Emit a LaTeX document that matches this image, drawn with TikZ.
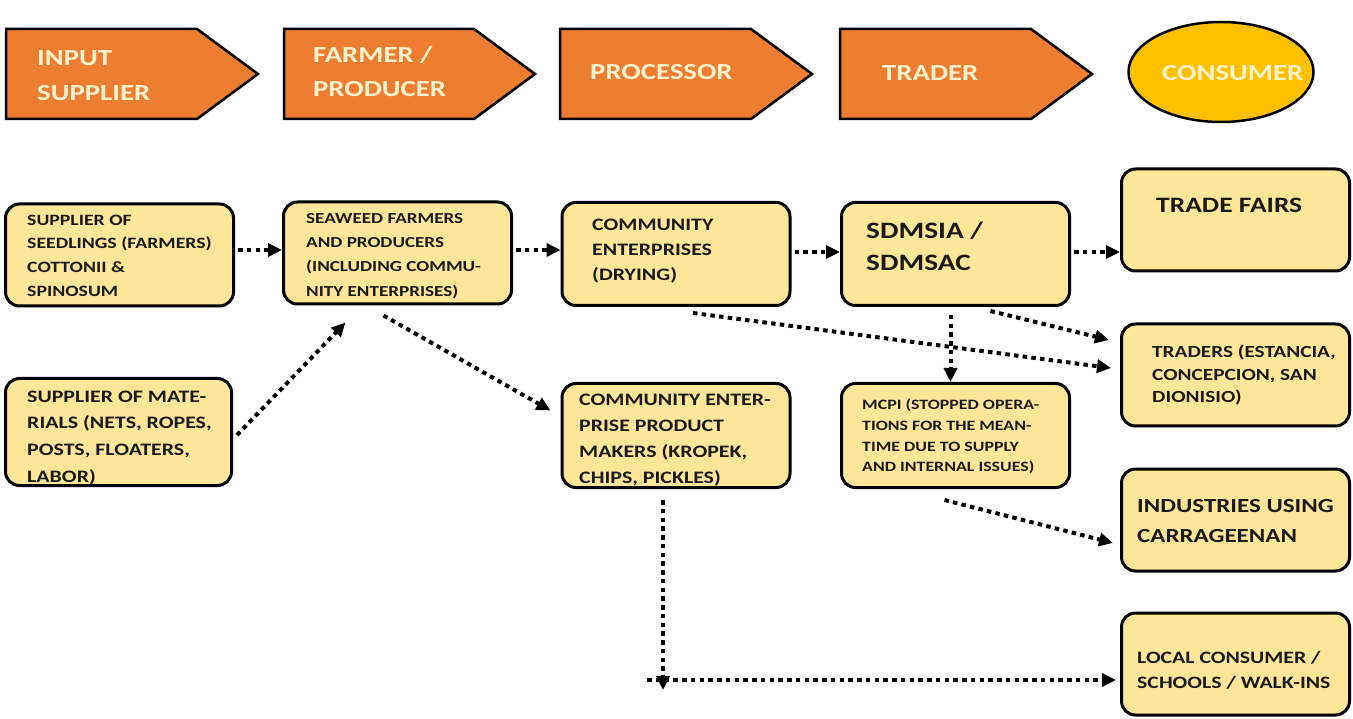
\documentclass[tikz,border=0pt]{standalone}
\usepackage{fontspec}
\setmainfont[FakeStretch=1.25]{Carlito}
\usetikzlibrary{arrows.meta,shapes.geometric,calc}
\definecolor{hdrorange}{HTML}{ED7D31}
\definecolor{boxfill}{HTML}{FFE699}
\definecolor{gold}{HTML}{FFC000}
\definecolor{hdrtext}{HTML}{FFF2CC}
\definecolor{ink}{HTML}{1A1A1A}
\newcommand{\fsz}[2]{\fontsize{#1}{#2}\selectfont\bfseries}
\begin{document}
\begin{tikzpicture}[x=1pt,y=-1pt,
  box/.style={draw=black, line width=3pt, rounded corners=14pt, fill=boxfill,
    minimum width=228pt, minimum height=102pt, inner sep=0pt},
  txt/.style={anchor=north west, inner sep=0pt, align=left, text=ink},
  hdr/.style={draw=black, line width=2.5pt, fill=hdrorange, line join=miter},
  htxt/.style={anchor=north west, inner sep=0pt, align=left, text=hdrtext},
  flow/.style={line width=4pt, dash pattern=on 4.5pt off 4.25pt,
    -{Triangle[length=14pt,width=13pt]}},
]
\useasboundingbox (0,0) rectangle (1353,719);
% header arrows
\draw[hdr] (6,29) -- (197,29) -- (258,74) -- (197,119) -- (6,119) -- cycle;
\draw[hdr] (284,29) -- (474,29) -- (535,74) -- (474,119) -- (284,119) -- cycle;
\draw[hdr] (560,29) -- (751,29) -- (812,74) -- (751,119) -- (560,119) -- cycle;
\draw[hdr] (840,29) -- (1031,29) -- (1092,74) -- (1031,119) -- (840,119) -- cycle;
\node[ellipse, draw=black, line width=2.5pt, fill=gold, minimum width=185pt,
  minimum height=100pt, inner sep=0pt] (cons) at (1221,72) {};
\node[htxt, font=\fsz{23}{35}] (h1) at (37,40.5) {\strut INPUT\\SUPPLIER};
\node[htxt, font=\fsz{23}{34}] (h2) at (313,38.2) {\strut FARMER /\\PRODUCER};
\node[htxt, font=\fsz{23}{35}] (h3) at (590,54.5) {\strut PROCESSOR};
\node[htxt, font=\fsz{23}{35}] (h4) at (882,55.5) {\strut TRADER};
\node[htxt, font=\fsz{23}{35}] (h5) at (1162,55.5) {\strut CONSUMER};
% boxes
\node[box] (b1) at (119.5,255) {};
\node[box] (b2) at (397.5,253) {};
\node[box, minimum height=103pt] (b3) at (676,254) {};
\node[box, minimum height=103pt] (b4) at (955.5,254) {};
\node[box] (b5) at (1235.5,220) {};
\node[box] (b6) at (1235.5,375) {};
\node[box, minimum height=104pt] (b7) at (955.5,435.5) {};
\node[box, minimum height=104pt] (b8) at (676,435.5) {};
\node[box, minimum width=226pt, minimum height=107pt] (b9) at (118.5,432) {};
\node[box] (b10) at (1235.5,520) {};
\node[box] (b11) at (1235.5,664) {};
% box texts
\node[txt, font=\fsz{15.8}{23.7}] (t1) at (27,208.4) {\strut SUPPLIER OF\\SEEDLINGS (FARMERS)\\COTTONII \&\\SPINOSUM};
\node[txt, font=\fsz{15.3}{24.3}] (t2) at (306,206) {\strut SEAWEED FARMERS\\AND PRODUCERS\\(INCLUDING COMMU-\\NITY ENTERPRISES)};
\node[txt, font=\fsz{17.5}{25}] (t3) at (592,212.5) {\strut COMMUNITY\\ENTERPRISES\\(DRYING)};
\node[txt, font=\fsz{23.5}{32}] (t4) at (866,215.6) {\strut SDMSIA /\\SDMSAC};
\node[txt, font=\fsz{22}{26}] (t5) at (1156,193.8) {\strut TRADE FAIRS};
\node[txt, font=\fsz{17}{22.5}] (t6) at (1152,341.75) {\strut TRADERS (ESTANCIA,\\CONCEPCION, SAN\\DIONISIO)};
\node[txt, font=\fsz{14.3}{20.7}] (t7) at (862,395) {\strut MCPI (STOPPED OPERA-\\TIONS FOR THE MEAN-\\TIME DUE TO SUPPLY\\AND INTERNAL ISSUES)};
\node[txt, font=\fsz{17.5}{26}] (t8) at (579,387.3) {\strut COMMUNITY ENTER-\\PRISE PRODUCT\\MAKERS (KROPEK,\\CHIPS, PICKLES)};
\node[txt, font=\fsz{17.5}{26.7}] (t9) at (27,383.3) {\strut SUPPLIER OF MATE-\\RIALS (NETS, ROPES,\\POSTS, FLOATERS,\\LABOR)};
\node[txt, font=\fsz{20}{30}] (t10) at (1137,491) {\strut INDUSTRIES USING\\CARRAGEENAN};
\node[txt, font=\fsz{17.4}{25}] (t11) at (1137,645.5) {\strut LOCAL CONSUMER /\\SCHOOLS / WALK-INS};
% connector end points
\coordinate (s1) at ($(b1.east)+(3,-5)$);
\coordinate (s2) at ($(b2.east)+(3,-3)$);
\coordinate (s3) at ($(b3.east)+(3,-2)$);
\coordinate (s4) at ($(b4.east)+(3,-2)$);
\coordinate (s5) at ($(b4.south)+(-5,8)$);
\coordinate (c0) at (647,680);
\coordinate (c1) at (663,690);
\coordinate (e11) at ($(b11.west)+(-4,0)$);
% connectors
\draw[flow] (s1) -- (s1 -| b2.west);
\draw[flow] (s2) -- (s2 -| b3.west);
\draw[flow] (s3) -- (s3 -| b4.west);
\draw[flow] (s4) -- (s4 -| b5.west);
\draw[flow] ($(b9.east)+(4,3)$) -- ($(b2.south)+(-52,17)$);
\draw[flow] ($(b2.south)+(-14,10)$) -- ($(b8.west)+(-10,-25)$);
\draw[flow] ($(b3.south)+(17,6)$) -- ($(b6.west)+(-9,-7)$);
\draw[flow] ($(b4.south)+(35,4)$) -- ($(b6.west)+(-11,-35)$);
\draw[flow] (s5) -- (s5 |- b7.north);
\draw[flow] ($(b7.south)+(-11,11)$) -- ($(b10.west)+(-7,23)$);
\draw[flow] ($(b8.south)+(-13,11)$) -- (c1);
\draw[flow] (c0) -- (c0 -| e11);
\end{tikzpicture}
\end{document}
